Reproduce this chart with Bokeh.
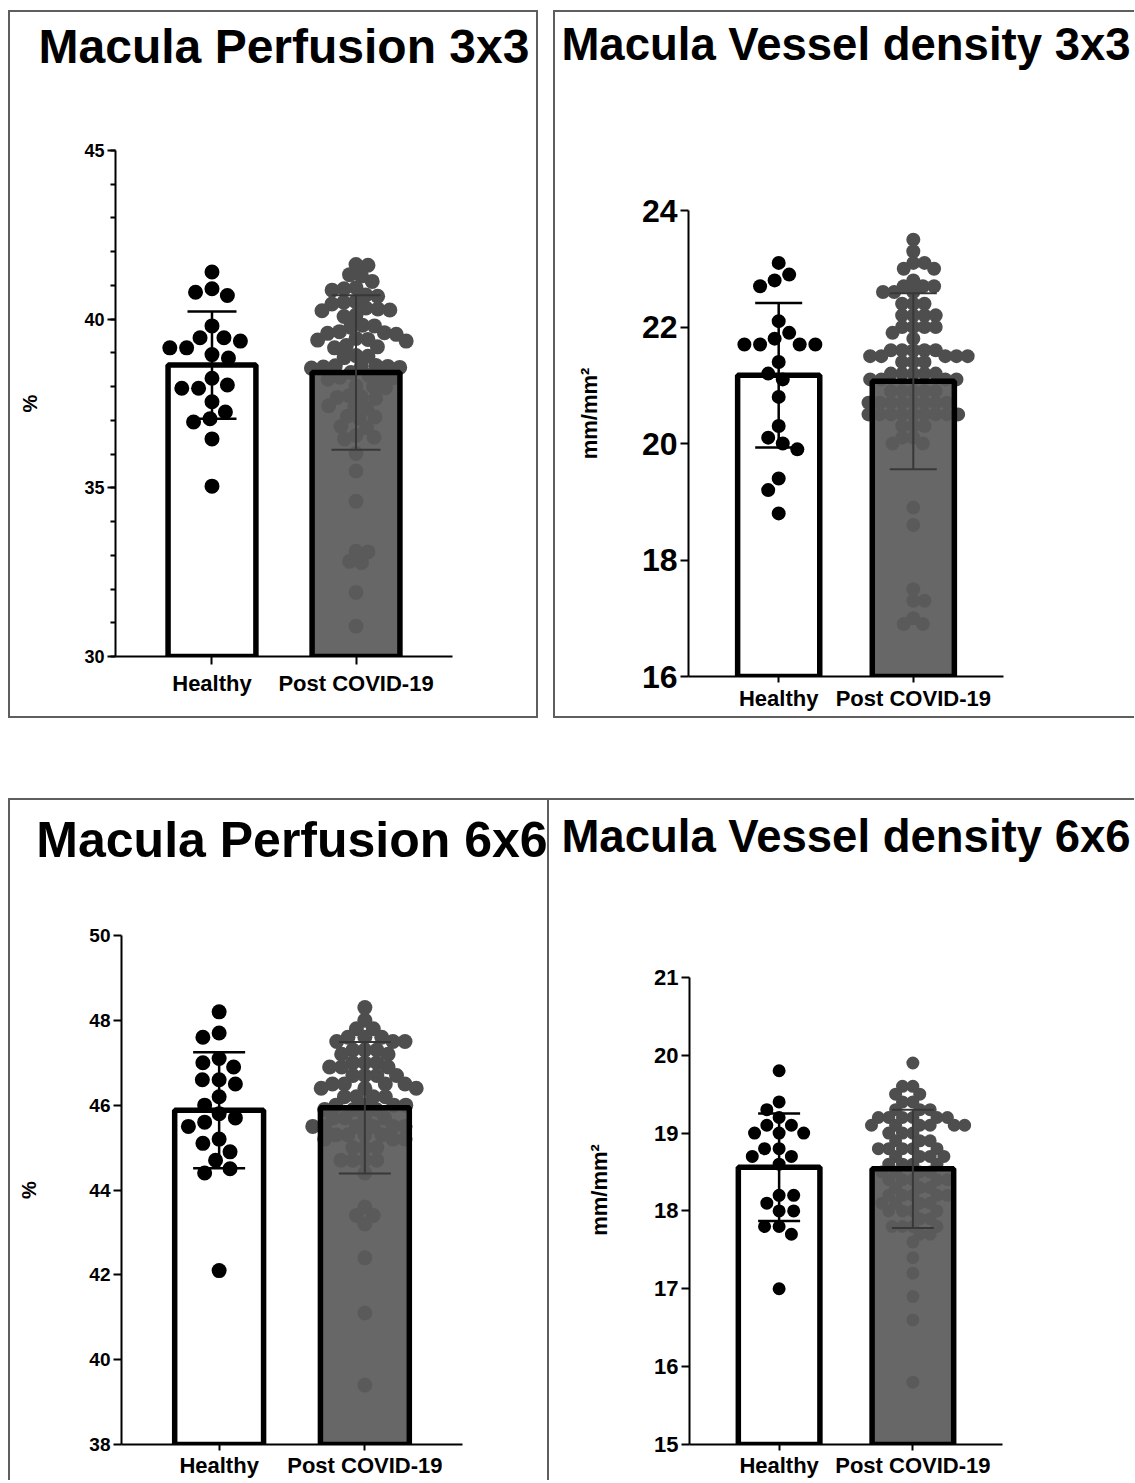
import math
from bokeh.plotting import figure
from bokeh.models import (Range1d, FixedTicker, SingleIntervalTicker, ColumnDataSource,
                          Whisker, TeeHead, Spacer, Title)
from bokeh.layouts import column, row
from bokeh.embed import file_html
from bokeh.resources import INLINE

# ---------------- data ----------------
categories = ["Healthy", "Post COVID-19"]

# Macula Perfusion 3x3 (%)
perf3_healthy = [41.4, 40.9, 40.8, 40.7, 39.8, 39.45, 39.35, 39.45, 39.15, 39.15, 38.85,
                 38.95, 38.05, 38.25, 37.95, 37.95, 37.55, 37.25, 37.05, 36.95, 36.45, 35.05]
perf3_post = [41.62, 41.6, 41.32, 41.28, 41.12, 40.93, 40.9, 40.86, 40.72, 40.68, 40.52, 40.5,
              40.45, 40.33, 40.3, 40.27, 40.25, 40.12, 40.08, 39.82, 39.8, 39.76, 39.63, 39.6,
              39.58, 39.55, 39.43, 39.4, 39.38, 39.35, 39.22, 39.18, 39.15, 38.92, 38.9, 38.86,
              38.63, 38.62, 38.6, 38.6, 38.58, 38.57, 38.55, 38.42, 38.33, 38.3, 38.28, 38.26,
              38.22, 38.02, 38.0, 37.97, 37.73, 37.7, 37.68, 37.65, 37.43, 37.4, 37.36, 37.12,
              37.1, 37.06, 36.82, 36.78, 36.55, 36.5, 36.45, 36.02, 35.5, 34.6, 33.12, 33.1,
              32.82, 32.78, 31.9, 30.9]
perf3_mean = [38.64, 38.42]
perf3_sd = [1.59, 2.29]

# Macula Vessel density 3x3 (mm/mm2)
vd3_healthy = [23.1, 22.9, 22.8, 22.7, 22.1, 21.9, 21.8, 21.7, 21.7, 21.7, 21.7, 21.4,
               21.2, 21.1, 20.8, 20.3, 20.1, 20.0, 19.9, 19.4, 19.2, 18.8]
vd3_post = [23.5, 23.3, 23.1, 23.1, 23.0, 23.0, 22.8, 22.7, 22.7, 22.7, 22.6, 22.6, 22.6,
            22.4, 22.4, 22.4, 22.2, 22.2, 22.2, 22.2, 22.0, 22.0, 22.0, 22.0, 21.9, 21.8,
            21.6, 21.6, 21.6, 21.6, 21.6, 21.5, 21.5, 21.5, 21.5, 21.5, 21.4, 21.4, 21.4,
            21.2, 21.2, 21.2, 21.2, 21.2, 21.1, 21.1, 21.1, 21.1, 20.9, 20.9, 20.9, 20.9,
            20.9, 20.7, 20.7, 20.7, 20.7, 20.7, 20.7, 20.7, 20.7, 20.5, 20.5, 20.5, 20.5,
            20.5, 20.5, 20.5, 20.5, 20.5, 20.3, 20.3, 20.3, 20.1, 20.1, 20.0, 20.0, 18.9,
            18.6, 17.5, 17.3, 17.3, 17.0, 16.9, 16.9]
vd3_mean = [21.17, 21.07]
vd3_sd = [1.24, 1.51]

# Macula Perfusion 6x6 (%)
perf6_healthy = [48.2, 47.7, 47.6, 47.1, 47.0, 46.9, 46.6, 46.6, 46.5, 46.2, 46.0, 45.8,
                 45.7, 45.6, 45.5, 45.2, 45.1, 44.9, 44.7, 44.5, 44.4, 42.1]
perf6_post = [48.3, 48.0, 47.8, 47.8, 47.6, 47.6, 47.6, 47.5, 47.5, 47.5, 47.3, 47.3, 47.3,
              47.2, 47.2, 47.0, 47.0, 47.0, 46.9, 46.9, 46.9, 46.7, 46.7, 46.7, 46.7, 46.5,
              46.5, 46.5, 46.5, 46.4, 46.4, 46.4, 46.2, 46.2, 46.2, 46.2, 46.0, 46.0, 46.0,
              46.0, 45.9, 45.9, 45.9, 45.7, 45.7, 45.7, 45.7, 45.5, 45.5, 45.5, 45.5, 45.5,
              45.5, 45.3, 45.3, 45.3, 45.3, 45.2, 45.2, 45.2, 45.0, 45.0, 45.0, 44.7, 44.7,
              44.7, 44.7, 44.4, 43.6, 43.4, 43.4, 43.2, 42.4, 41.1, 39.4]
perf6_mean = [45.88, 45.94]
perf6_sd = [1.37, 1.55]

# Macula Vessel density 6x6 (mm/mm2)
vd6_healthy = [19.8, 19.4, 19.3, 19.2, 19.1, 19.1, 19.0, 19.0, 19.0, 18.8, 18.8, 18.7,
               18.7, 18.6, 18.2, 18.2, 18.1, 18.0, 18.0, 17.8, 17.8, 17.7, 17.0]
vd6_post = [19.9, 19.6, 19.6, 19.5, 19.5, 19.4, 19.4, 19.3, 19.3, 19.3, 19.2, 19.2, 19.2,
            19.2, 19.2, 19.2, 19.1, 19.1, 19.1, 19.1, 19.1, 19.1, 19.0, 19.0, 19.0, 18.9,
            18.9, 18.9, 18.8, 18.8, 18.8, 18.8, 18.8, 18.7, 18.7, 18.7, 18.7, 18.6, 18.6,
            18.6, 18.6, 18.5, 18.5, 18.5, 18.5, 18.4, 18.4, 18.4, 18.4, 18.4, 18.3, 18.3,
            18.3, 18.2, 18.2, 18.2, 18.2, 18.2, 18.1, 18.1, 18.1, 18.1, 18.0, 18.0, 18.0,
            18.0, 17.9, 17.9, 17.8, 17.8, 17.8, 17.8, 17.7, 17.7, 17.6, 17.4, 17.2, 16.9,
            16.6, 15.8]
vd6_mean = [18.56, 18.54]
vd6_sd = [0.69, 0.76]

FONT = "Liberation Sans"
X_LO, X_HI = -0.67, 1.67


def swarm_offsets(values, px_per_x, px_per_y, sep):
    """Greedy beeswarm: x offsets (data units) keeping dot centres at least sep px apart."""
    order = sorted(range(len(values)), key=lambda i: -values[i])
    placed = []
    offs = [0.0] * len(values)
    for n, i in enumerate(order):
        y = values[i] * px_per_y
        cands = [0.0]
        blocks = []
        for (px, py) in placed:
            dy = abs(py - y)
            if dy < sep:
                w = math.sqrt(sep * sep - dy * dy)
                blocks.append((px - w, px + w))
                cands += [px - w, px + w]
        sgn = 1 if n % 2 == 0 else -1
        cands.sort(key=lambda c: (round(abs(c), 4), sgn * c))
        chosen = 0.0
        for c in cands:
            if all(not (a + 1e-6 < c < b - 1e-6) for a, b in blocks):
                chosen = c
                break
        placed.append((chosen, y))
        offs[i] = chosen / px_per_x
    return offs


def panel(title, title_size, title_lh, ylo, yhi, interval, minor, ylabel, ylabel_size,
          ylabel_standoff, ytick_size, healthy, post, means, sds, width, height,
          mb_left, mb_right, mb_top, mb_bottom, axis_top, dot, cap, xl_standoff, tick_out):
    fw = width - mb_left - mb_right
    frame_bottom = height - mb_bottom
    px_y = (frame_bottom - axis_top) / (yhi - ylo)
    px_x = fw / (X_HI - X_LO)
    y_top = yhi + (axis_top - mb_top) / px_y

    p = figure(width=width, height=height, output_backend="svg", toolbar_location=None,
               x_range=Range1d(X_LO, X_HI), y_range=Range1d(ylo, y_top),
               min_border_left=mb_left, min_border_right=mb_right,
               min_border_top=mb_top, min_border_bottom=mb_bottom)
    p.grid.visible = False
    p.outline_line_color = None
    p.background_fill_color = None
    p.border_fill_color = None

    # panel title, centred over the plot area; the trailing empty line keeps it near the top
    p.add_layout(Title(text=title + "\n", text_font=FONT, text_font_size=f"{title_size}px",
                       text_font_style="bold", text_color="black", align="center",
                       text_line_height=title_lh, standoff=0), "above")

    # post-COVID dots (under a slightly transparent bar)
    po = swarm_offsets(post, px_x, px_y, 0.8 * dot)
    p.scatter([1 + o for o in po], post, size=dot, fill_color="#4e4e4e", line_color=None)

    bars = ColumnDataSource(dict(x=[0, 1], top=means, fill=["white", "#5b5b5b"], alpha=[1.0, 0.93]))
    p.vbar(x="x", top="top", bottom=ylo, width=0.61, fill_color="fill", fill_alpha="alpha",
           line_color="black", line_width=5.5, source=bars)

    ho = swarm_offsets(healthy, px_x, px_y, 1.12 * dot)
    p.scatter([0 + o for o in ho], healthy, size=dot, fill_color="black", line_color=None)

    for i, col, lw in [(0, "black", 2.5), (1, "#383838", 2)]:
        src = ColumnDataSource(dict(x=[i], upper=[means[i] + sds[i]], lower=[means[i] - sds[i]]))
        w = Whisker(source=src, base="x", upper="upper", lower="lower", line_color=col,
                    line_width=lw, level="overlay",
                    upper_head=TeeHead(size=cap, line_color=col, line_width=lw),
                    lower_head=TeeHead(size=cap, line_color=col, line_width=lw))
        p.add_layout(w)

    xa = p.below[0]
    ya = p.left[0]
    for ax in (xa, ya):
        ax.axis_line_width = 2
        ax.axis_line_color = "black"
        ax.major_tick_line_width = 2
        ax.major_tick_line_color = "black"
        ax.major_tick_in = 0
        ax.minor_tick_in = 0
        ax.major_label_text_font = FONT
        ax.major_label_text_font_style = "bold"
        ax.major_label_text_color = "black"

    xa.ticker = FixedTicker(ticks=[0, 1])
    xa.major_label_overrides = {0: categories[0], 1: categories[1]}
    xa.major_label_text_font_size = "22px"
    xa.major_label_standoff = xl_standoff
    xa.major_tick_out = tick_out
    xa.minor_tick_line_color = None

    ya.bounds = (ylo, yhi)
    ya.ticker = SingleIntervalTicker(interval=interval, num_minor_ticks=minor)
    ya.major_label_text_font_size = f"{ytick_size}px"
    ya.major_label_standoff = 3
    ya.major_tick_out = 8
    ya.minor_tick_out = 5
    ya.minor_tick_line_width = 2
    ya.minor_tick_line_color = "black" if minor else None
    ya.axis_label = ylabel
    ya.axis_label_text_font = FONT
    ya.axis_label_text_font_size = f"{ylabel_size}px"
    ya.axis_label_text_font_style = "bold"
    ya.axis_label_text_color = "black"
    ya.axis_label_standoff = ylabel_standoff
    return p


B = "#5e5e5e"
p1 = panel("Macula Perfusion 3x3", 48, 1.46, 30, 45, 5, 5, "%", 20, 40, 18,
           perf3_healthy, perf3_post, perf3_mean, perf3_sd, 530, 688, 107, 86, 140, 42, 140,
           15, 49, 6, 8)
p2 = panel("Macula Vessel density 3x3", 45.5, 1.58, 16, 24, 2, 0, "mm/mm²", 22, 37, 32,
           vd3_healthy, vd3_post, vd3_mean, vd3_sd, 581, 708, 135, 131, 140, 42, 200,
           14, 47, 3, 6)
p3 = panel("Macula Perfusion 6x6", 50, 1.21, 38, 50, 2, 0, "%", 20, 46, 19,
           perf6_healthy, perf6_post, perf6_mean, perf6_sd, 541, 682, 113, 87, 137, 34, 137,
           15, 52, 2, 6)
p4 = panel("Macula Vessel density 6x6", 45.5, 1.44, 15, 21, 1, 0, "mm/mm²", 22, 39, 22,
           vd6_healthy, vd6_post, vd6_mean, vd6_sd, 585, 682, 140, 132, 137, 34, 179,
           13, 42, 2, 6)

box1 = column(p1, Spacer(height=20), styles={"box-shadow": f"inset 0 0 0 2px {B}"})
box2 = column(p2, styles={"box-shadow": f"inset 2px 0 0 0 {B}, inset 0 2px 0 0 {B}, inset 0 -2px 0 0 {B}"})
box3 = column(p3, styles={"box-shadow": f"inset 2px 0 0 0 {B}, inset 0 2px 0 0 {B}, inset -2px 0 0 0 {B}"})
box4 = column(p4, styles={"box-shadow": f"inset 0 2px 0 0 {B}"})

layout = column(Spacer(height=10),
                row(Spacer(width=8), box1, Spacer(width=15), box2),
                Spacer(height=80),
                row(Spacer(width=8), box3, box4))

open("out.html", "w").write(file_html(layout, INLINE, title="Macula OCTA"))
